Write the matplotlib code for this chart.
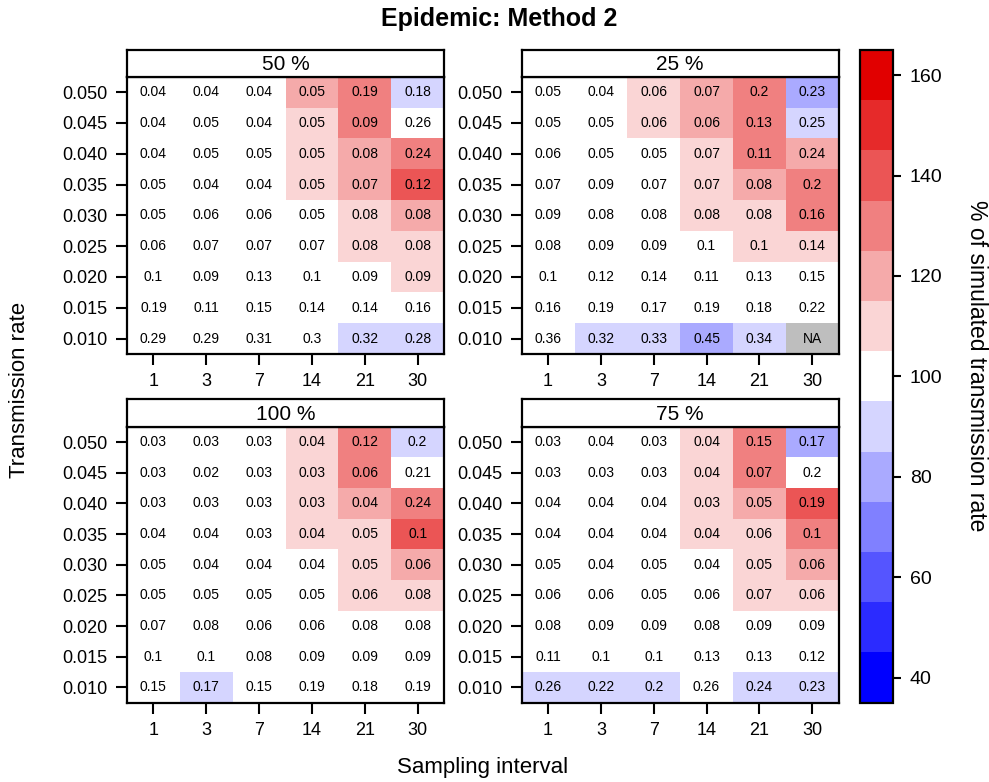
import numpy as np
import matplotlib
matplotlib.use('Agg')
import matplotlib.pyplot as plt
from matplotlib.colors import ListedColormap, BoundaryNorm

plt.rcParams['font.family'] = ['Liberation Sans', 'DejaVu Sans']

intervals = ['1', '3', '7', '14', '21', '30']
rates = ['0.050', '0.045', '0.040', '0.035', '0.030', '0.025', '0.020', '0.015', '0.010']

NA = np.nan

# % of simulated transmission rate (cell colours), rows from 0.050 down to 0.010
pct_50 = [[100, 100, 100, 120, 130, 90],
          [100, 100, 100, 110, 130, 100],
          [100, 100, 100, 110, 120, 130],
          [100, 100, 100, 110, 120, 140],
          [100, 100, 100, 100, 110, 120],
          [100, 100, 100, 100, 110, 110],
          [100, 100, 100, 100, 100, 110],
          [100, 100, 100, 100, 100, 100],
          [100, 100, 100, 100, 90, 90]]
pct_25 = [[100, 100, 110, 120, 130, 80],
          [100, 100, 110, 120, 130, 90],
          [100, 100, 100, 110, 130, 120],
          [100, 100, 100, 110, 120, 130],
          [100, 100, 100, 110, 110, 130],
          [100, 100, 100, 100, 110, 110],
          [100, 100, 100, 100, 100, 100],
          [100, 100, 100, 100, 100, 100],
          [100, 90, 90, 80, 90, NA]]
pct_100 = [[100, 100, 100, 110, 130, 90],
           [100, 100, 100, 110, 130, 100],
           [100, 100, 100, 110, 120, 130],
           [100, 100, 100, 110, 110, 140],
           [100, 100, 100, 100, 110, 120],
           [100, 100, 100, 100, 110, 110],
           [100, 100, 100, 100, 100, 100],
           [100, 100, 100, 100, 100, 100],
           [100, 90, 100, 100, 100, 100]]
pct_75 = [[100, 100, 100, 110, 130, 80],
          [100, 100, 100, 110, 130, 100],
          [100, 100, 100, 110, 120, 140],
          [100, 100, 100, 110, 110, 130],
          [100, 100, 100, 100, 110, 120],
          [100, 100, 100, 100, 110, 110],
          [100, 100, 100, 100, 100, 100],
          [100, 100, 100, 100, 100, 100],
          [90, 90, 90, 100, 90, 90]]

# printed values in the cells
lab_50 = [['0.04', '0.04', '0.04', '0.05', '0.19', '0.18'],
          ['0.04', '0.05', '0.04', '0.05', '0.09', '0.26'],
          ['0.04', '0.05', '0.05', '0.05', '0.08', '0.24'],
          ['0.05', '0.04', '0.04', '0.05', '0.07', '0.12'],
          ['0.05', '0.06', '0.06', '0.05', '0.08', '0.08'],
          ['0.06', '0.07', '0.07', '0.07', '0.08', '0.08'],
          ['0.1', '0.09', '0.13', '0.1', '0.09', '0.09'],
          ['0.19', '0.11', '0.15', '0.14', '0.14', '0.16'],
          ['0.29', '0.29', '0.31', '0.3', '0.32', '0.28']]
lab_25 = [['0.05', '0.04', '0.06', '0.07', '0.2', '0.23'],
          ['0.05', '0.05', '0.06', '0.06', '0.13', '0.25'],
          ['0.06', '0.05', '0.05', '0.07', '0.11', '0.24'],
          ['0.07', '0.09', '0.07', '0.07', '0.08', '0.2'],
          ['0.09', '0.08', '0.08', '0.08', '0.08', '0.16'],
          ['0.08', '0.09', '0.09', '0.1', '0.1', '0.14'],
          ['0.1', '0.12', '0.14', '0.11', '0.13', '0.15'],
          ['0.16', '0.19', '0.17', '0.19', '0.18', '0.22'],
          ['0.36', '0.32', '0.33', '0.45', '0.34', 'NA']]
lab_100 = [['0.03', '0.03', '0.03', '0.04', '0.12', '0.2'],
           ['0.03', '0.02', '0.03', '0.03', '0.06', '0.21'],
           ['0.03', '0.03', '0.03', '0.03', '0.04', '0.24'],
           ['0.04', '0.04', '0.03', '0.04', '0.05', '0.1'],
           ['0.05', '0.04', '0.04', '0.04', '0.05', '0.06'],
           ['0.05', '0.05', '0.05', '0.05', '0.06', '0.08'],
           ['0.07', '0.08', '0.06', '0.06', '0.08', '0.08'],
           ['0.1', '0.1', '0.08', '0.09', '0.09', '0.09'],
           ['0.15', '0.17', '0.15', '0.19', '0.18', '0.19']]
lab_75 = [['0.03', '0.04', '0.03', '0.04', '0.15', '0.17'],
          ['0.03', '0.03', '0.03', '0.04', '0.07', '0.2'],
          ['0.04', '0.04', '0.04', '0.03', '0.05', '0.19'],
          ['0.04', '0.04', '0.04', '0.04', '0.06', '0.1'],
          ['0.05', '0.04', '0.05', '0.04', '0.05', '0.06'],
          ['0.06', '0.06', '0.05', '0.06', '0.07', '0.06'],
          ['0.08', '0.09', '0.09', '0.08', '0.09', '0.09'],
          ['0.11', '0.1', '0.1', '0.13', '0.13', '0.12'],
          ['0.26', '0.22', '0.2', '0.26', '0.24', '0.23']]

panels = [('50 %', pct_50, lab_50), ('25 %', pct_25, lab_25),
          ('100 %', pct_100, lab_100), ('75 %', pct_75, lab_75)]

# colour key: 13 bins of width 10 centred on 40..160, blue -> white -> red
bounds = np.arange(35, 166, 10)
blue = np.array([0, 0, 255]) / 255
white = np.array([1.0, 1.0, 1.0])
red = np.array([225, 0, 0]) / 255
cols = [blue + (white - blue) * k / 6 for k in range(6)] + [white] + \
       [white + (red - white) * k / 6 for k in range(1, 7)]
cmap = ListedColormap(cols)
cmap.set_bad('#bebebe')
norm = BoundaryNorm(bounds, cmap.N)

W, H = 989, 782
fig = plt.figure(figsize=(W / 100, H / 100), dpi=100)


def box(x0, y0, x1, y1):
    return [x0 / W, 1 - y1 / H, (x1 - x0) / W, (y1 - y0) / H]


# pixel layout of the panels: (left, strip top, plot top, right, bottom)
lay = [(127, 50, 76.7, 444, 354), (521.7, 50, 76.7, 838.5, 354),
       (127, 399, 426.7, 444, 702.7), (521.7, 399, 426.7, 838.5, 702.7)]

for (name, pct, lab), (x0, ys, yt, x1, yb) in zip(panels, lay):
    ax = fig.add_axes(box(x0, yt, x1, yb))
    data = np.ma.masked_invalid(np.array(pct, dtype=float))
    ax.pcolormesh(np.arange(7) - 0.5, np.arange(10) - 0.5, data,
                  cmap=cmap, norm=norm)
    ax.set_xlim(-0.5, 5.5)
    ax.set_ylim(8.5, -0.5)
    for i in range(9):
        for j in range(6):
            ax.text(j, i, lab[i][j], ha='center', va='center', fontsize=10)
    ax.set_xticks(range(6))
    ax.set_xticklabels(intervals, fontsize=13)
    ax.set_yticks(range(9))
    ax.set_yticklabels(rates, fontsize=13)
    ax.tick_params(direction='out', length=8, width=1.5, pad=6)
    for s in ax.spines.values():
        s.set_linewidth(1.6)

    sax = fig.add_axes(box(x0, ys, x1, yt))
    sax.set_xticks([])
    sax.set_yticks([])
    for s in sax.spines.values():
        s.set_linewidth(1.6)
    sax.text(0.5, 0.45, name, ha='center', va='center', fontsize=15,
             transform=sax.transAxes)

# colour key
cax = fig.add_axes(box(860, 50, 893, 702.7))
sm = plt.cm.ScalarMappable(norm=norm, cmap=cmap)
cb = fig.colorbar(sm, cax=cax, ticks=np.arange(40, 161, 20))
cb.minorticks_off()
cb.outline.set_linewidth(1.6)
cax.tick_params(direction='out', length=6, width=1.5, labelsize=14, pad=6)

fig.text(977 / W, 1 - 366 / H, '% of simulated transmission rate',
         ha='center', va='center', rotation=270, fontsize=16.5)
fig.text(499 / W, 1 - 19 / H, 'Epidemic: Method 2', ha='center', va='center',
         fontsize=18, fontweight='bold')
fig.text(20 / W, 1 - 390 / H, 'Transmission rate', ha='center', va='center',
         rotation=90, fontsize=16)
fig.text(483 / W, 1 - 768 / H, 'Sampling interval', ha='center', va='center',
         fontsize=16)

fig.savefig('out.png', dpi=100)
